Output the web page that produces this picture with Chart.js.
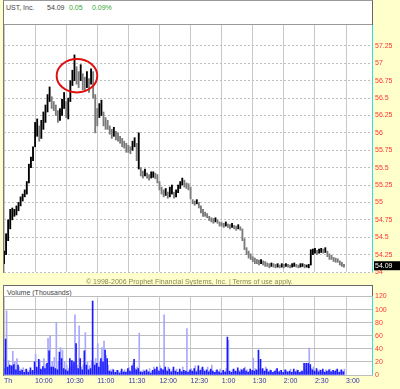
<!DOCTYPE html>
<html>
<head>
<meta charset="utf-8">
<script src="https://cdn.jsdelivr.net/npm/chart.js@4.4.1/dist/chart.umd.min.js"></script>
<style>
  body { margin: 0; background: #ffffcc; }
  #wrap { position: relative; width: 400px; height: 389px; overflow: hidden; background: #ffffcc; font-family: 'Liberation Sans', Arial, sans-serif; }
  .panel { position: absolute; left: 3px; width: 368px; background: #fff; border-left: 1px solid #777; border-top: 1px solid #999; border-right: 1px solid #666; }
  .txt { position: absolute; font-size: 7px; line-height: 9px; white-space: nowrap; color: #444; }
  canvas { position: absolute; left: 0; }
</style>
</head>
<body>
<div id="wrap">
  <div class="panel" style="top:0;height:272px"></div>
  <div style="position:absolute;left:4px;top:24px;width:368px;height:0;border-top:1px solid #999"></div>
  <div class="txt" style="left:6px;top:3px">UST, Inc.</div>
  <div class="txt" style="left:47px;top:3px">54.09</div>
  <div class="txt" style="left:69px;top:3px;color:#33aa33">0.05</div>
  <div class="txt" style="left:92px;top:3px;color:#33aa33">0.09%</div>
  <canvas id="price" width="400" height="255" style="top:25px"></canvas>
  <div class="txt" style="left:86px;top:277px;color:#8a8a5a">© 1998-2006 Prophet Financial Systems, Inc. | Terms of use apply.</div>
  <div class="panel" style="top:285px;height:90px;border-top-color:#666"></div>
  <div class="txt" style="left:7px;top:288px">Volume (Thousands)</div>
  <canvas id="volume" width="400" height="103" style="top:286px"></canvas>
</div>
<script>
// time axis: minutes after 9:30, one label every half hour
const timeLabels = ['Th', '10:00', '10:30', '11:00', '11:30', '12:00', '12:30', '1:00', '1:30', '2:00', '2:30', '3:00'];
const priceTicks = [54, 54.25, 54.5, 54.75, 55, 55.25, 55.5, 55.75, 56, 56.25, 56.5, 56.75, 57, 57.25];
const volumeTicks = [0, 20, 40, 60, 80, 100, 120];
const barMinutes = 2;
const lastPrice = 54.09;
// red circle round the morning high (minute, price, radius in minutes / price)
const peakCircle = { minute: 70.4, price: 56.82, minuteRadius: 19.6, priceRadius: 0.24 };

// 2-minute bars, low / high
const priceLow = [
  54.12, 54.25, 54.45, 54.62, 54.75, 54.80, 54.82, 54.88, 54.95, 55.02,
  55.08, 55.12, 55.28, 55.50, 55.60, 55.80, 55.95, 55.88, 55.92, 56.05,
  56.15, 56.30, 56.45, 56.35, 56.32, 56.25, 56.15, 56.18, 56.25, 56.35,
  56.22, 56.20, 56.45, 56.68, 56.75, 56.70, 56.65, 56.75, 56.62, 56.60,
  56.65, 56.58, 56.70, 56.50, 56.00, 56.10, 56.22, 56.25, 56.10, 56.05,
  56.05, 55.98, 55.92, 55.95, 55.90, 55.88, 55.85, 55.80, 55.78, 55.72,
  55.72, 55.70, 55.75, 55.80, 55.60, 55.48, 55.38, 55.35, 55.38, 55.35,
  55.32, 55.35, 55.36, 55.34, 55.28, 55.18, 55.12, 55.08, 55.10, 55.06,
  55.08, 55.12, 55.06, 55.08, 55.14, 55.20, 55.25, 55.22, 55.20, 55.18,
  55.05, 54.98, 54.96, 54.98, 54.92, 54.85, 54.80, 54.80, 54.78, 54.74,
  54.72, 54.70, 54.72, 54.70, 54.66, 54.66, 54.64, 54.66, 54.64, 54.62,
  54.64, 54.62, 54.60, 54.62, 54.60, 54.45, 54.32, 54.25, 54.20, 54.18,
  54.15, 54.12, 54.12, 54.10, 54.12, 54.10, 54.08, 54.08, 54.06, 54.08,
  54.07, 54.06, 54.07, 54.06, 54.07, 54.06, 54.08, 54.07, 54.06, 54.07,
  54.08, 54.07, 54.06, 54.07, 54.08, 54.06, 54.07, 54.06, 54.10, 54.25,
  54.27, 54.25, 54.27, 54.28, 54.27, 54.28, 54.22, 54.18, 54.18, 54.15,
  54.14, 54.14, 54.10, 54.08, 54.07
];
const priceHigh = [
  54.30, 54.55, 54.75, 54.90, 54.92, 54.90, 54.95, 55.00, 55.08, 55.12,
  55.18, 55.30, 55.55, 55.65, 55.80, 56.15, 56.20, 56.10, 56.18, 56.30,
  56.40, 56.55, 56.66, 56.52, 56.45, 56.40, 56.32, 56.35, 56.48, 56.58,
  56.45, 56.50, 56.75, 56.90, 57.12, 56.95, 56.88, 56.98, 56.85, 56.80,
  56.88, 56.78, 56.92, 56.88, 56.55, 56.35, 56.42, 56.47, 56.30, 56.22,
  56.18, 56.10, 56.05, 56.08, 56.02, 56.00, 55.95, 55.92, 55.88, 55.85,
  55.82, 55.80, 55.88, 55.93, 55.85, 56.00, 55.50, 55.45, 55.48, 55.42,
  55.40, 55.44, 55.44, 55.42, 55.40, 55.30, 55.22, 55.18, 55.20, 55.15,
  55.22, 55.25, 55.15, 55.18, 55.25, 55.30, 55.35, 55.32, 55.28, 55.27,
  55.22, 55.04, 55.02, 55.04, 55.00, 54.95, 54.90, 54.86, 54.84, 54.80,
  54.78, 54.77, 54.78, 54.75, 54.72, 54.71, 54.70, 54.72, 54.69, 54.68,
  54.70, 54.67, 54.66, 54.68, 54.65, 54.62, 54.48, 54.35, 54.30, 54.26,
  54.22, 54.20, 54.18, 54.17, 54.18, 54.16, 54.15, 54.13, 54.12, 54.13,
  54.12, 54.11, 54.12, 54.10, 54.12, 54.11, 54.12, 54.11, 54.10, 54.12,
  54.13, 54.11, 54.10, 54.12, 54.12, 54.11, 54.10, 54.11, 54.32, 54.33,
  54.34, 54.31, 54.33, 54.34, 54.33, 54.35, 54.30, 54.26, 54.24, 54.21,
  54.20, 54.19, 54.16, 54.14, 54.11
];
// volume in thousands, up-ticks and down-ticks per 2-minute bar
const volumeUp = [
  10, 55, 12, 15, 14, 16, 8, 15, 6, 7,
  4, 9, 4, 11, 7, 20, 12, 24, 9, 13,
  10, 18, 37, 12, 12, 10, 8, 35, 25, 10,
  8, 6, 25, 22, 20, 48, 10, 25, 8, 37,
  15, 8, 10, 113, 15, 18, 12, 25, 20, 38,
  25, 6, 5, 8, 4, 7, 3, 9, 5, 4,
  10, 6, 14, 24, 8, 10, 5, 4, 6, 8,
  5, 3, 7, 9, 12, 6, 10, 8, 12, 6,
  9, 5, 12, 6, 4, 9, 5, 7, 6, 4,
  8, 6, 10, 5, 14, 7, 12, 6, 8, 5,
  9, 6, 4, 8, 5, 3, 7, 5, 58, 6,
  4, 9, 6, 11, 5, 8, 10, 6, 4, 9,
  7, 6, 8, 38, 24, 10, 6, 9, 5, 7,
  4, 6, 10, 5, 7, 4, 8, 5, 6, 4,
  9, 5, 7, 4, 6, 18, 18, 18, 16, 8,
  6, 10, 5, 7, 9, 4, 6, 8, 5, 7,
  6, 9, 4, 8, 5
];
const volumeDown = [
  24, 98, 22, 14, 36, 20, 25, 12, 9, 11,
  8, 6, 7, 5, 6, 32, 9, 22, 7, 25,
  16, 56, 60, 20, 27, 80, 20, 42, 38, 20,
  15, 10, 12, 15, 92, 15, 75, 12, 15, 65,
  20, 14, 22, 20, 25, 48, 20, 42, 52, 30,
  15, 8, 9, 4, 7, 5, 6, 4, 8, 6,
  12, 4, 18, 10, 12, 64, 6, 8, 3, 5,
  10, 6, 12, 5, 8, 14, 8, 92, 8, 12,
  5, 8, 6, 9, 5, 6, 12, 4, 71, 6,
  10, 5, 14, 8, 6, 10, 9, 5, 12, 7,
  15, 4, 7, 5, 9, 6, 4, 10, 53, 5,
  8, 6, 4, 7, 9, 6, 12, 8, 6, 5,
  26, 10, 7, 10, 8, 6, 12, 5, 8, 4,
  6, 9, 5, 7, 4, 8, 6, 4, 9, 5,
  6, 8, 4, 6, 5, 8, 6, 41, 10, 12,
  5, 7, 8, 4, 6, 8, 5, 9, 6, 4,
  8, 5, 7, 6, 9
];

const family = "'Liberation Sans', Arial, sans-serif";
const minutes = priceLow.map((v, i) => i * barMinutes);
const priceBars = priceLow.map((lo, i) => ({ x: minutes[i], y: [lo, priceHigh[i]] }));
const isUp = priceLow.map((lo, i) => {
  if (i === 0) return true;
  return lo + priceHigh[i] >= priceLow[i - 1] + priceHigh[i - 1];
});

function timeScale(showLabels) {
  return {
    type: 'linear', min: 0, max: 356, offset: false,
    grid: { color: '#c8c8c8', offset: false, drawTicks: false },
    border: { display: false },
    ticks: {
      display: showLabels, autoSkip: false, maxRotation: 0, align: 'start', padding: 2,
      color: '#3333aa', font: { size: 7, family: family },
      callback: v => timeLabels[Math.round(v / 30)]
    },
    afterBuildTicks: s => { s.ticks = timeLabels.map((t, i) => ({ value: i * 30 })); },
    afterFit: s => { s.height = showLabels ? 14 : 0; s.paddingLeft = 0; s.paddingRight = 0; }
  };
}

function valueScale(min, max, ticks, dash) {
  return {
    position: 'right', min: min, max: max,
    grid: { color: '#bdbdbd', drawTicks: false },
    border: { display: false, dash: dash },
    ticks: { color: '#ff3333', padding: 2, font: { size: 7, family: family }, callback: v => String(v) },
    afterBuildTicks: s => { s.ticks = ticks.map(v => ({ value: v })); },
    afterFit: s => { s.width = 27; s.paddingTop = 0; s.paddingBottom = 0; }
  };
}

// circle and last price tag
const priceMarks = {
  id: 'priceMarks',
  afterDatasetsDraw(chart) {
    const { ctx, scales: { x, y } } = chart;
    const cx = x.getPixelForValue(peakCircle.minute);
    const cy = y.getPixelForValue(peakCircle.price);
    const rx = x.getPixelForValue(peakCircle.minute + peakCircle.minuteRadius) - cx;
    const ry = cy - y.getPixelForValue(peakCircle.price + peakCircle.priceRadius);
    ctx.save();
    ctx.strokeStyle = '#e01010';
    ctx.lineWidth = 2;
    ctx.beginPath();
    ctx.ellipse(cx, cy, rx, ry, 0, 0, Math.PI * 2);
    ctx.stroke();
    ctx.restore();
  },
  afterDraw(chart) {
    const { ctx, chartArea, scales: { y } } = chart;
    const py = y.getPixelForValue(lastPrice);
    ctx.save();
    ctx.fillStyle = '#000';
    ctx.fillRect(chartArea.right + 1, py - 4.5, 27, 9);
    ctx.fillStyle = '#fff';
    ctx.font = '7px ' + family;
    ctx.textBaseline = 'middle';
    ctx.fillText(lastPrice.toFixed(2), chartArea.right + 2, py);
    ctx.restore();
  }
};

// cyan right edge of the plot area
const edgeLine = {
  id: 'edgeLine',
  afterDraw(chart) {
    const { ctx, chartArea } = chart;
    ctx.save();
    ctx.strokeStyle = '#33dddd';
    ctx.lineWidth = 1;
    ctx.beginPath();
    ctx.moveTo(Math.round(chartArea.right) - 0.5, chartArea.top);
    ctx.lineTo(Math.round(chartArea.right) - 0.5, chartArea.bottom);
    ctx.stroke();
    ctx.restore();
  }
};

const common = {
  responsive: false, animation: false, devicePixelRatio: 1,
  plugins: { legend: { display: false }, tooltip: { enabled: false } }
};

new Chart(document.getElementById('price'), {
  type: 'bar',
  data: {
    datasets: [{
      data: priceBars,
      backgroundColor: isUp.map(u => u ? '#000000' : '#7a7a7a'),
      borderWidth: 0,
      barThickness: 1.2
    }]
  },
  options: Object.assign({}, common, {
    layout: { padding: { left: 4, top: 0, right: 0, bottom: 8 } },
    scales: { x: timeScale(false), y: valueScale(54, 57.55, priceTicks, [2, 2]) }
  }),
  plugins: [priceMarks, edgeLine]
});

new Chart(document.getElementById('volume'), {
  type: 'bar',
  data: {
    datasets: [
      { data: volumeUp.map((v, i) => ({ x: minutes[i], y: v })), backgroundColor: '#1a1aff', borderWidth: 0, barThickness: 1 },
      { data: volumeDown.map((v, i) => ({ x: minutes[i], y: v })), backgroundColor: '#a8a8ff', borderWidth: 0, barThickness: 1 }
    ]
  },
  options: Object.assign({}, common, {
    layout: { padding: { left: 4, top: 10.5, right: 0, bottom: 0 } },
    scales: { x: timeScale(true), y: valueScale(0, 120, volumeTicks, []) }
  }),
  plugins: [edgeLine]
});
</script>
</body>
</html>
